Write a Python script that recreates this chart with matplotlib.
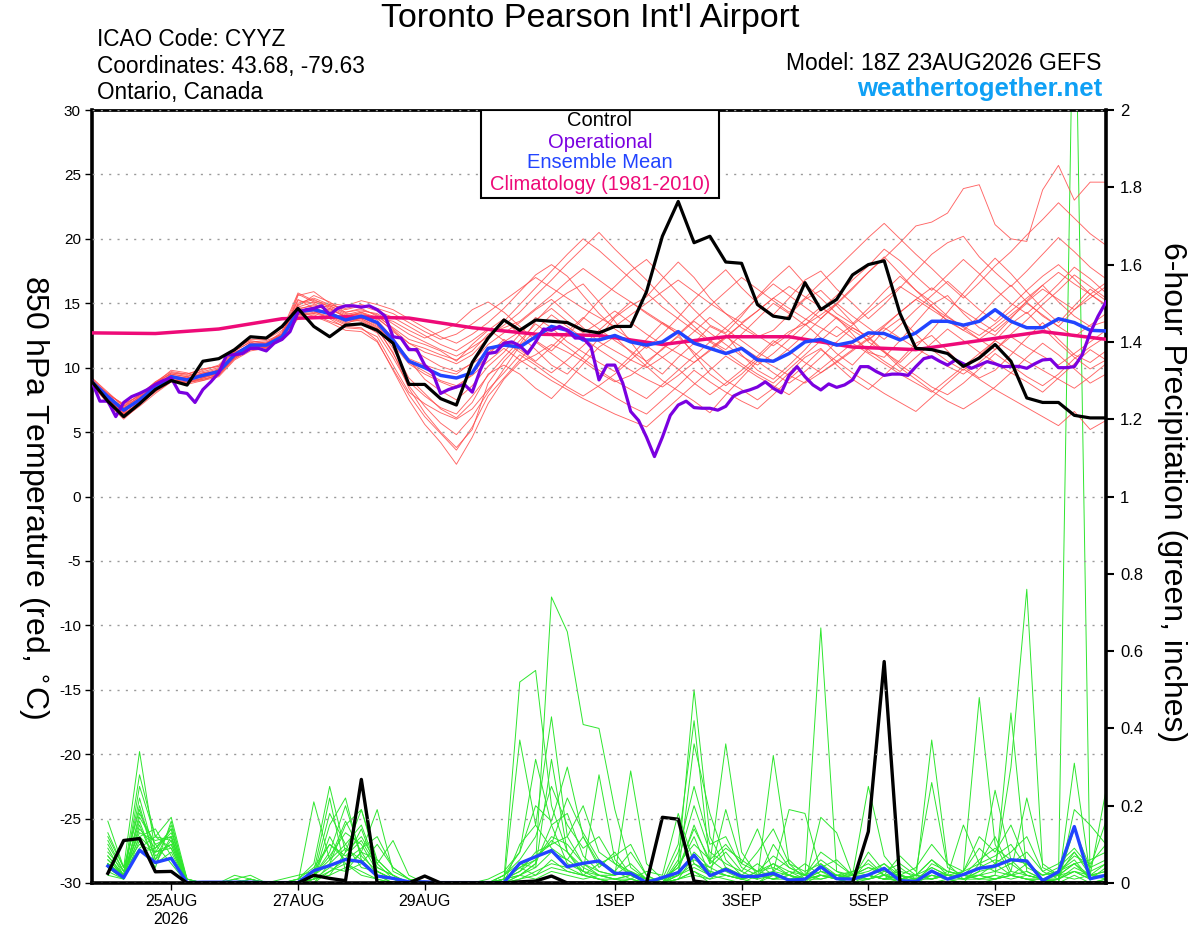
import matplotlib
matplotlib.use("Agg")
import matplotlib.pyplot as plt
from matplotlib.patches import Rectangle
import pandas as pd

plt.rcParams['font.family'] = ['Liberation Sans', 'DejaVu Sans']

# ---------------- data ----------------
run_start = "2026-08-23 18:00"
times = pd.date_range(run_start, periods=65, freq="6h")
op_times = pd.date_range(run_start, periods=129, freq="3h")
clim_times = pd.date_range(run_start, periods=17, freq="24h")
precip_times = times[1:]

tick_dates = ["2026-08-25", "2026-08-27", "2026-08-29", "2026-09-01",
              "2026-09-03", "2026-09-05", "2026-09-07"]
tick_labels = ["25AUG\n2026", "27AUG", "29AUG", "1SEP", "3SEP", "5SEP", "7SEP"]
temp_ticks = [-30, -25, -20, -15, -10, -5, 0, 5, 10, 15, 20, 25, 30]
precip_ticks = [0, 0.2, 0.4, 0.6, 0.8, 1, 1.2, 1.4, 1.6, 1.8, 2]

control_temp = [8.9, 7.4, 6.2, 7.2, 8.3, 9.0, 8.65, 10.5, 10.7, 11.4, 12.4, 12.3, 13.2,
                14.6, 13.2, 12.4, 13.3, 13.4, 12.9, 11.9, 8.7, 8.7, 7.6, 7.1, 10.4,
                12.3, 13.7, 12.9, 13.7, 13.6, 13.5, 12.9, 12.7, 13.2, 13.2, 15.9, 20.2,
                22.9, 19.7, 20.2, 18.2, 18.1, 14.9, 14.0, 13.8,
                16.6, 14.5, 15.3, 17.2, 18.0, 18.3, 14.2, 11.5, 11.4, 11.1, 10.1, 10.75,
                11.8, 10.5, 7.65, 7.3, 7.3, 6.3, 6.1, 6.1]

mean_temp = [8.9, 7.75, 6.7, 7.5, 8.5, 9.3, 9.05, 9.4, 9.7, 11.0, 11.75, 11.75, 12.4,
             14.35, 14.5, 14.2, 13.7, 14.0, 13.5, 12.15, 10.5, 10.0, 9.4, 9.2, 9.6,
             11.5, 11.75, 11.6, 12.4, 13.2, 12.9, 12.15, 12.15, 12.5, 12.0, 11.75, 12.0,
             12.8, 11.9, 11.5, 11.1, 11.5, 10.6, 10.5, 11.1,
             12.0, 12.2, 11.75, 12.0, 12.7, 12.65, 12.15, 12.7, 13.6, 13.6, 13.3, 13.6,
             14.5, 13.6, 13.1, 13.1, 13.8, 13.5, 12.9, 12.85]

oper_temp = [8.9, 7.4, 7.4, 6.2, 7.3, 7.75, 8.0, 8.3, 8.7, 9.0, 9.2, 8.1, 8.0, 7.3, 8.3, 8.9,
             9.6, 11.0, 11.0, 11.1, 11.5, 11.5, 11.3, 11.9, 12.2, 12.8, 14.3, 14.5, 14.6, 14.8,
             14.1, 14.6, 14.8, 14.8, 14.7, 14.8, 14.5, 14.0, 12.4, 12.3, 11.4, 11.4, 10.2, 9.6,
             8.0, 8.3, 8.5, 8.7, 8.1, 9.8, 11.1, 11.2, 11.9, 12.0, 11.7, 11.1, 12.0, 13.0, 12.9,
             13.2, 12.9, 12.3, 12.3, 11.6, 9.05, 10.2, 10.2, 8.8, 6.6, 5.9, 4.6, 3.1, 4.6, 6.3,
             7.1, 7.4, 6.9, 6.85, 6.85, 6.7, 7.0, 7.8, 8.1, 8.27, 8.5, 8.9, 8.4, 8.05, 9.4,
             10.08, 9.3, 8.66, 8.27, 8.74, 8.47, 8.66, 9.05, 10.08, 10.08, 9.7, 9.4, 9.5, 9.5,
             9.4, 10.08, 10.7, 10.85, 10.5, 10.2, 10.6, 10.3, 9.95, 10.2, 10.47, 10.3, 10.08,
             10.1, 10.1, 9.95, 10.3, 10.6, 10.65, 10.0, 10.0, 10.08, 11.0, 12.7, 14.0, 15.1]

clim_temp = [12.7, 12.65, 13.0, 13.8, 13.95, 13.85, 13.1, 12.6, 12.5, 11.8, 12.4, 12.4,
             11.6, 11.4, 12.1, 12.8, 12.2]

ens_temp = [
    [9.0, 7.5, 6.5, 7.6, 8.8, 9.8, 9.6, 9.2, 9.9, 11.3, 12.0, 11.5, 12.6,
     15.2, 15.0, 14.3, 13.8, 13.6, 13.0, 11.2, 8.4, 6.5, 5.0, 3.8, 5.2,
     8.8, 10.5, 11.8, 13.6, 14.9, 15.8, 16.5, 15.1, 13.6, 12.0, 10.4, 9.5, 10.8, 11.9, 13.2, 12.6, 11.0, 9.8, 9.1, 10.2,
     11.4, 12.8, 13.9, 12.6, 11.2, 10.8, 12.1, 13.5, 14.9, 15.6, 14.2, 13.1, 12.5, 13.8, 15.2, 16.4, 15.1, 14.0, 13.2, 13.6],
    [8.7, 7.2, 6.0, 7.1, 8.2, 9.1, 8.9, 9.0, 9.5, 10.7, 11.5, 11.9, 12.8,
     14.8, 15.6, 15.1, 14.3, 14.6, 14.0, 13.1, 12.2, 11.8, 11.3, 10.5, 11.8,
     12.9, 13.8, 12.5, 11.4, 10.2, 9.5, 10.8, 12.3, 13.9, 14.8, 15.5, 16.9, 18.2, 17.0, 15.4, 14.2, 13.1, 12.4, 12.9, 14.1,
     15.3, 16.0, 14.8, 13.5, 12.0, 11.2, 10.4, 11.6, 12.9, 14.3, 15.8, 17.2, 18.5, 17.3, 15.9, 14.6, 13.5, 14.8, 16.1, 15.2],
    [9.2, 8.1, 7.0, 7.9, 8.9, 9.5, 9.3, 9.8, 10.2, 11.5, 12.1, 11.9, 12.1,
     13.8, 14.1, 13.6, 13.2, 13.1, 12.1, 9.8, 7.5, 5.6, 4.2, 2.5, 4.6,
     7.2, 9.1, 10.4, 11.0, 11.8, 11.2, 10.5, 9.6, 8.9, 9.4, 10.3, 11.5, 12.4, 11.2, 10.1, 9.0, 8.3, 7.5, 8.4, 9.6,
     10.8, 11.5, 10.2, 9.1, 8.3, 9.4, 10.6, 11.9, 12.5, 11.3, 10.1, 9.2, 9.8, 11.0, 12.3, 13.5, 12.2, 11.0, 10.4, 11.3],
    [8.8, 7.9, 7.2, 7.8, 8.4, 9.0, 9.1, 9.6, 9.9, 10.8, 11.4, 11.6, 12.2,
     15.6, 15.9, 15.0, 14.8, 15.2, 14.9, 14.5, 13.8, 13.1, 12.4, 11.9, 12.6,
     13.5, 14.6, 15.9, 17.2, 18.0, 17.1, 15.6, 14.2, 13.0, 12.2, 11.5, 12.6, 13.9, 15.3, 16.5, 17.6, 16.2, 15.0, 14.1, 15.4,
     16.8, 17.5, 16.1, 15.0, 13.8, 14.9, 16.2, 17.5, 18.8, 19.7, 20.2, 18.6, 17.4, 16.3, 17.5, 18.8, 20.1, 19.0, 17.8, 16.9],
    [9.1, 7.6, 6.4, 7.3, 8.1, 8.9, 9.2, 9.3, 9.6, 10.9, 11.9, 12.0, 12.5,
     14.0, 14.2, 14.6, 13.9, 14.3, 13.7, 12.3, 10.6, 9.1, 8.2, 7.5, 8.6,
     10.1, 11.2, 12.6, 13.9, 13.1, 12.0, 11.2, 10.4, 9.7, 10.9, 12.2, 13.5, 12.6, 11.0, 9.5, 8.6, 9.5, 10.7, 11.9, 12.8,
     13.4, 12.3, 11.1, 10.2, 11.5, 12.9, 13.8, 12.6, 11.4, 10.5, 9.8, 10.9, 12.1, 13.4, 14.3, 13.1, 11.9, 10.8, 9.9, 10.6],
    [8.6, 7.4, 6.3, 7.4, 8.6, 9.4, 9.0, 9.1, 9.4, 10.9, 11.8, 11.7, 12.3,
     14.1, 14.3, 14.0, 13.4, 13.9, 13.3, 11.5, 9.2, 8.0, 6.8, 6.1, 7.3,
     9.5, 10.2, 9.5, 8.4, 7.6, 8.9, 10.3, 11.6, 12.4, 11.2, 10.1, 9.0, 8.2, 7.4, 6.5, 7.9, 9.2, 10.5, 9.6, 8.8,
     9.7, 10.8, 12.0, 13.1, 12.4, 11.3, 10.2, 9.4, 8.5, 7.9, 8.8, 9.9, 11.1, 10.2, 9.3, 8.6, 9.5, 10.7, 11.6, 12.4],
    [9.0, 8.0, 7.0, 7.7, 8.7, 9.6, 9.4, 9.7, 10.0, 11.2, 11.7, 11.9, 12.6,
     15.3, 14.6, 14.8, 14.2, 14.1, 13.9, 13.6, 12.9, 12.3, 12.8, 13.4, 14.5,
     15.1, 14.3, 13.2, 12.1, 11.3, 12.5, 13.8, 15.2, 16.3, 17.5, 18.4, 17.1, 15.8, 14.5, 13.3, 12.7, 14.0, 15.5, 16.8, 17.9,
     16.5, 15.4, 14.2, 13.4, 14.6, 15.9, 17.1, 16.0, 14.8, 13.6, 12.9, 14.0, 15.3, 16.4, 15.1, 14.0, 13.2, 14.5, 15.7, 16.6],
    [8.9, 7.7, 6.8, 7.6, 8.3, 9.2, 9.0, 9.5, 9.8, 11.1, 11.6, 11.8, 12.4,
     14.5, 14.9, 14.4, 13.6, 13.8, 13.2, 12.0, 10.7, 10.2, 9.8, 9.5, 10.4,
     11.8, 12.7, 13.5, 14.5, 15.3, 14.2, 13.1, 12.0, 11.3, 10.6, 10.0, 10.8, 11.7, 12.8, 13.9, 13.0, 12.1, 11.2, 10.5, 11.5,
     12.6, 13.8, 14.9, 16.1, 17.4, 18.6, 17.3, 16.0, 15.1, 14.0, 13.1, 12.2, 11.4, 12.6, 13.7, 14.9, 16.0, 17.2, 16.3, 15.4],
    [8.8, 7.5, 6.6, 7.5, 8.5, 9.1, 8.8, 9.2, 9.6, 10.8, 11.6, 11.6, 12.3,
     14.2, 14.4, 13.8, 13.1, 13.0, 12.4, 10.2, 8.1, 7.2, 6.5, 6.0, 6.8,
     8.3, 9.6, 11.0, 10.2, 9.3, 8.5, 7.8, 8.6, 9.5, 10.6, 11.7, 10.8, 9.9, 8.8, 7.9, 8.8, 9.8, 10.9, 12.1, 11.3,
     10.4, 9.6, 10.5, 11.4, 12.3, 11.2, 10.0, 9.1, 8.2, 7.4, 6.8, 7.6, 8.5, 9.6, 10.8, 11.9, 11.0, 9.9, 8.8, 9.5],
    [9.1, 7.8, 6.9, 7.4, 8.6, 9.5, 9.3, 9.6, 9.7, 11.0, 11.9, 11.8, 12.7,
     14.9, 15.3, 14.7, 14.1, 14.4, 14.2, 13.4, 12.6, 12.0, 11.4, 10.9, 11.6,
     12.4, 13.3, 14.3, 15.6, 16.8, 18.1, 19.3, 20.5, 19.2, 18.0, 16.8, 15.5, 14.3, 13.2, 12.1, 11.4, 12.6, 13.8, 15.0, 14.2,
     13.3, 14.5, 15.6, 16.8, 17.9, 19.2, 18.3, 17.1, 16.0, 17.2, 18.4, 17.3, 16.1, 15.0, 14.2, 15.3, 16.5, 17.8, 16.9, 15.8],
    [8.9, 7.3, 6.2, 7.2, 8.4, 9.3, 9.0, 9.3, 9.5, 11.1, 11.8, 11.9, 12.2,
     14.4, 14.7, 14.1, 13.5, 13.7, 13.0, 11.8, 10.3, 9.5, 8.9, 8.4, 9.5,
     11.0, 12.2, 11.4, 10.5, 11.6, 12.8, 13.9, 13.0, 12.1, 11.3, 10.5, 11.4, 12.5, 13.6, 12.7, 11.8, 10.9, 10.2, 11.1, 12.2,
     13.3, 14.1, 15.0, 14.0, 13.1, 12.2, 13.3, 14.5, 15.6, 16.7, 15.6, 14.5, 13.6, 14.8, 16.0, 17.1, 18.0, 16.9, 15.7, 14.8],
    [8.7, 7.7, 6.9, 7.7, 8.6, 9.2, 9.1, 9.4, 9.8, 10.9, 11.6, 11.7, 12.5,
     14.6, 14.8, 14.5, 14.0, 14.2, 13.8, 12.9, 11.6, 10.8, 10.1, 9.7, 10.3,
     11.2, 12.0, 12.8, 13.7, 14.6, 13.6, 12.7, 13.5, 14.4, 13.5, 12.6, 11.8, 11.1, 10.4, 11.3, 12.3, 13.4, 12.5, 11.7, 12.6,
     13.7, 14.7, 13.8, 12.9, 12.1, 13.2, 14.3, 15.3, 16.2, 15.3, 14.4, 13.6, 12.8, 13.9, 15.0, 14.1, 13.2, 12.4, 13.3, 14.2],
    [9.0, 7.6, 6.5, 7.5, 8.7, 9.4, 9.2, 9.5, 9.6, 11.2, 11.7, 11.6, 12.3,
     15.0, 15.4, 14.9, 14.5, 14.8, 14.4, 13.9, 13.2, 12.5, 11.8, 11.3, 12.1,
     13.0, 12.1, 11.2, 10.4, 9.6, 10.6, 11.7, 12.9, 14.0, 15.1, 14.2, 13.4, 12.6, 13.7, 14.8, 15.9, 17.0, 16.1, 15.2, 14.3,
     15.4, 16.6, 17.7, 18.9, 20.1, 21.2, 20.0, 18.8, 17.7, 16.5, 15.4, 16.6, 17.9, 19.0, 20.3, 21.5, 22.8, 21.6, 20.4, 19.5],
    [8.8, 7.4, 6.4, 7.3, 8.3, 9.0, 8.9, 9.2, 9.5, 10.8, 11.5, 11.7, 12.4,
     14.3, 14.5, 14.2, 13.7, 13.8, 13.1, 11.1, 8.9, 7.8, 6.9, 6.4, 7.8,
     9.4, 10.8, 12.1, 13.4, 12.5, 11.6, 10.7, 9.8, 9.0, 8.3, 7.6, 8.7, 9.8, 10.9, 12.0, 11.2, 10.3, 9.5, 8.8, 9.9,
     11.0, 12.1, 13.2, 12.3, 11.4, 10.5, 9.7, 10.8, 11.9, 13.0, 12.1, 11.2, 10.4, 9.6, 8.9, 8.1, 9.2, 10.3, 11.4, 10.6],
    [9.2, 8.0, 7.1, 7.9, 8.8, 9.6, 9.5, 9.9, 10.1, 11.3, 12.0, 12.1, 12.6,
     15.7, 15.1, 14.6, 14.0, 14.3, 13.9, 12.8, 11.9, 11.2, 10.8, 10.3, 11.0,
     12.3, 13.6, 14.9, 16.2, 17.5, 18.8, 20.0, 19.1, 18.0, 16.9, 15.8, 14.7, 13.8, 12.9, 12.0, 13.1, 14.2, 15.4, 16.5, 15.6,
     14.7, 13.8, 15.0, 16.2, 17.4, 18.5, 19.7, 21.0, 21.3, 22.0, 23.9, 24.2, 21.1, 20.0, 19.8, 23.8, 25.7, 23.0, 24.4, 24.4],
    [8.6, 7.3, 6.1, 7.0, 8.0, 8.9, 8.7, 9.0, 9.3, 10.6, 11.3, 11.5, 12.2,
     13.9, 14.0, 13.5, 12.9, 12.8, 12.0, 9.9, 7.9, 6.2, 4.9, 3.6, 5.4,
     7.8, 9.2, 10.6, 12.0, 11.1, 10.2, 9.3, 8.5, 7.7, 7.0, 6.4, 7.5, 8.6, 9.8, 8.9, 8.1, 7.4, 6.8, 7.9, 9.1,
     10.2, 11.4, 10.5, 9.6, 8.8, 8.0, 7.3, 6.6, 7.7, 8.8, 9.9, 9.1, 8.3, 7.6, 6.9, 6.2, 5.5, 6.6, 5.2, 5.9],
    [9.0, 7.9, 6.8, 7.8, 8.9, 9.7, 9.5, 9.9, 10.1, 11.4, 12.2, 12.2, 12.9,
     15.8, 15.2, 14.9, 14.6, 14.9, 14.6, 14.2, 13.5, 12.8, 12.2, 12.6, 13.4,
     14.3, 15.2, 16.1, 17.0, 16.2, 15.4, 14.6, 13.9, 13.2, 14.1, 15.0, 15.9, 16.8, 15.9, 15.0, 14.2, 13.5, 14.4, 15.4, 16.3,
     15.5, 14.7, 13.9, 13.1, 12.4, 13.3, 14.3, 15.3, 14.5, 13.7, 12.9, 12.2, 13.1, 14.1, 15.1, 16.1, 15.3, 14.5, 15.4, 16.3],
    [8.9, 7.6, 6.6, 7.4, 8.4, 9.2, 9.0, 9.3, 9.7, 11.0, 11.7, 11.8, 12.4,
     14.4, 14.6, 14.2, 13.6, 13.9, 13.4, 12.0, 10.4, 9.7, 9.0, 8.6, 9.4,
     10.5, 11.5, 10.6, 9.8, 9.0, 8.3, 7.6, 7.0, 6.4, 5.9, 5.4, 6.5, 7.6, 8.7, 9.8, 10.9, 10.1, 9.3, 8.6, 7.9,
     8.9, 9.9, 10.9, 11.9, 11.1, 10.3, 9.5, 8.8, 8.1, 9.1, 10.1, 11.1, 12.1, 11.3, 10.5, 9.8, 9.1, 8.4, 9.3, 10.3],
    [8.7, 7.7, 6.7, 7.6, 8.5, 9.3, 9.2, 9.4, 9.8, 11.1, 11.8, 11.7, 12.3,
     14.7, 15.1, 14.8, 14.3, 14.5, 14.1, 13.0, 11.9, 11.5, 11.0, 10.6, 11.3,
     12.6, 13.1, 13.6, 14.6, 15.6, 16.7, 17.7, 16.8, 15.9, 15.1, 14.3, 13.5, 12.8, 12.1, 11.5, 12.4, 13.4, 14.4, 15.4, 14.6,
     13.8, 13.1, 12.4, 13.3, 14.3, 15.3, 16.3, 15.5, 14.7, 13.9, 13.2, 12.5, 13.4, 14.4, 15.4, 16.4, 17.4, 16.5, 15.7, 14.9],
    [9.0, 7.5, 6.4, 7.2, 8.2, 9.0, 8.8, 9.1, 9.4, 10.7, 11.4, 11.6, 12.2,
     14.1, 14.2, 13.9, 13.3, 13.4, 12.7, 10.8, 8.6, 7.0, 5.7, 4.8, 6.2,
     8.1, 9.9, 11.7, 12.9, 14.1, 13.2, 12.3, 11.4, 10.6, 9.8, 9.1, 8.5, 9.4, 10.4, 11.4, 12.4, 11.6, 10.8, 10.1, 9.4,
     8.8, 9.6, 10.4, 11.3, 12.2, 13.1, 12.3, 11.5, 10.8, 10.1, 9.5, 10.4, 11.4, 12.4, 11.6, 10.9, 10.2, 11.1, 12.0, 12.9],
]

control_precip = [.025, .11, .115, .029, .03, 0, 0, 0,
                  0, 0, 0, 0, 0, .02, .012, .006,
                  .268, 0, 0, 0, .018, 0, 0, 0,
                  0, 0, .003, .005, .018, 0, 0, 0,
                  0, 0, 0, .17, .165, .005, 0, 0,
                  0, 0, 0, 0, 0, 0, 0, 0,
                  .133, .573, 0, 0, 0, 0, 0, 0,
                  0, 0, 0, 0, 0, 0, 0, 0]

mean_precip = [.044, .014, .085, .053, .064, .001, .002, .002,
               .002, .002, .001, .001, .001, .032, .045, .061,
               .055, .018, .012, .003, .003, .001, .001, .001,
               .001, .001, .051, .068, .084, .042, .051, .057,
               .025, .025, .001, .014, .027, .072, .019, .035,
               .017, .017, .025, .007, .01, .042, .011, .01,
               .021, .038, .006, .004, .031, .01, .022, .038,
               .044, .06, .057, .006, .029, .146, .011, .02]

ens_precip = [
    [.16, .04, .34, .08, .10, 0, 0, 0, 0, .01, 0, 0, 0, .01, .03, .05,
     .02, .01, 0, 0, 0, 0, 0, 0, 0, 0, .02, .05, .74, .65, .41, .40,
     .19, .04, .01, 0, .01, .03, 0, 0, 0, 0, .02, .01, 0, .05, .01, 0,
     0, 0, .01, 0, .02, .01, 0, 0, .01, .02, .05, .01, 0, .02, 0, .01],
    [.05, .02, .28, .12, .17, .01, 0, 0, .01, .02, 0, 0, 0, .21, .06, .10,
     .04, .03, .01, 0, 0, 0, 0, 0, 0, .01, .52, .55, .20, .08, .03, .01,
     0, 0, 0, 0, .05, .50, .12, .04, .01, 0, .03, .02, 0, .02, .01, 0,
     .02, .05, .01, 0, 0, .01, .03, .48, .10, .02, .01, 0, .01, .03, .02, .05],
    [.02, .01, .15, .05, .12, 0, 0, 0, 0, 0, 0, 0, .01, .05, .25, .08,
     .19, .06, .02, 0, 0, 0, 0, 0, 0, 0, .37, .15, .43, .12, .05, .02,
     .01, 0, 0, .01, .10, .42, .05, .36, .08, .02, .01, .01, 0, .17, .13, .02,
     .25, .07, .02, .01, .37, .05, .01, .03, .24, .06, .02, .01, 0, .31, .02, .24],
    [.08, .03, .20, .06, .15, .01, 0, 0, 0, 0, 0, .01, .02, .03, .22, .03,
     .08, .19, .03, .01, 0, 0, 0, 0, .01, .03, .08, .32, .15, .05, .03, .28,
     .06, .02, 0, 0, .02, .36, .18, .06, .02, .01, .33, .05, .01, .03, .01, 0,
     .01, .02, .07, .03, .26, .04, .02, .01, .02, .44, .03, .01, 0, .19, .15, .10],
    [.12, .04, .10, .08, .09, 0, 0, 0, .02, .01, 0, 0, 0, .01, .15, .22,
     .06, .02, 0, 0, 0, 0, 0, 0, 0, .02, .05, .04, .32, .08, .02, .01,
     0, .01, .03, .02, .18, .05, .02, .19, .05, .14, .03, .19, .18, .03, .02, .01,
     .06, .02, 0, .01, .03, .01, 0, .05, .12, .03, .22, .05, .02, .08, .02, .03],
    [.06, .02, .12, .14, .07, 0, 0, 0, 0, 0, 0, 0, .01, .02, .05, .15,
     .19, .05, .11, .02, 0, 0, 0, 0, 0, .01, .04, .06, .12, .10, .05, .03,
     .02, .29, .05, .01, .02, .08, .04, .02, .01, .03, .05, .02, .01, .02, .01, .03,
     .05, .02, .01, .02, .04, .02, .15, .05, .03, .05, .02, .01, .03, .05, .06, .08],
    [.04, .01, .18, .10, .05, 0, 0, 0, 0, .01, 0, 0, 0, .01, .12, .05,
     .03, .01, 0, 0, 0, 0, 0, 0, 0, 0, .10, .15, .09, .06, .12, .04,
     .08, .02, 0, .01, .04, .12, .02, .01, 0, .02, .01, .02, .05, .02, .01, .02,
     .01, .03, .02, 0, .05, .03, .02, .02, .01, .02, .01, 0, .01, 2.5, 0, .01],
    [.10, .03, .09, .12, .11, 0, 0, 0, 0, 0, 0, 0, 0, .02, .18, .10,
     .15, .04, .02, 0, 0, 0, 0, 0, 0, .01, .02, .05, .15, .18, .07, .03,
     .02, .05, .01, 0, .03, .06, .04, .08, .03, .01, .10, .04, .02, .04, .06, .02,
     .02, .01, .04, .01, .02, .01, .03, .12, .08, .15, .05, .02, .03, .06, .01, .04],
    [.07, .02, .14, .09, .13, .01, 0, 0, 0, 0, 0, 0, 0, .01, .02, .08,
     .12, .05, .01, 0, 0, 0, 0, 0, 0, 0, .01, .03, .05, .04, .02, .01,
     .01, .02, .01, 0, .01, .03, .01, .04, .02, .05, .02, .01, .01, .02, .02, .01,
     .02, .01, .01, .02, .01, .02, .01, .01, .01, .02, .01, .01, .01, .04, .02, .02],
    [.03, .01, .11, .04, .16, 0, 0, 0, 0, 0, 0, 0, 0, 0, .03, .06,
     .09, .12, .04, .01, 0, 0, 0, 0, 0, .01, .03, .08, .10, .22, .13, .06,
     .03, .01, 0, 0, .05, .10, .06, .03, .01, .02, .03, .06, .02, .66, .03, .01,
     .02, .01, .01, .02, .06, .02, .01, .03, .04, .30, .76, .04, .02, .05, .01, .02],
    [.09, .02, .22, .07, .10, 0, 0, 0, 0, 0, 0, 0, .01, .04, .10, .06,
     .14, .03, .01, 0, 0, 0, 0, 0, 0, .02, .06, .12, .25, .15, .09, .12,
     .05, .02, .01, 0, .08, .25, .10, .12, .04, .02, .05, .03, .02, .08, .05, .02,
     .04, .02, .03, .02, .01, .02, .03, .05, .07, .10, .04, .02, .04, .08, .03, .05],
    [.05, .02, .16, .05, .08, 0, 0, 0, 0, .01, 0, 0, 0, .02, .06, .16,
     .08, .02, .01, 0, 0, 0, 0, 0, 0, 0, .02, .01, .03, .02, .01, .02,
     .01, .01, 0, 0, .02, .05, .03, .02, .01, .03, .02, .01, .01, .03, .02, .02,
     .01, .02, .01, .01, .02, .01, .01, .02, .03, .02, .01, .01, .02, .01, .02, .01],
    [.11, .03, .13, .11, .12, .01, 0, 0, 0, 0, 0, 0, 0, .01, .04, .03,
     .05, .10, .04, .01, 0, 0, 0, 0, 0, .01, .04, .02, .06, .03, .02, .05,
     .07, .10, .02, 0, .03, .15, .05, .09, .06, .03, .04, .02, .01, .02, .01, .02,
     .03, .05, .02, .01, .04, .02, .01, .02, .05, .02, .03, .01, .02, .05, .02, .03],
    [.06, .02, .08, .09, .14, 0, 0, 0, 0, 0, 0, 0, 0, .02, .08, .20,
     .07, .03, .01, 0, 0, 0, 0, 0, 0, .01, .02, .04, .08, .06, .03, .02,
     .02, .03, .01, 0, .02, .04, .02, .04, .02, .01, .02, .01, .02, .01, .02, .01,
     .02, .01, .02, .01, .03, .02, .02, .01, .02, .01, .02, .01, .01, .03, .01, .02],
    [.13, .04, .19, .06, .11, 0, 0, 0, .01, 0, 0, 0, 0, .03, .10, .07,
     .11, .04, .02, 0, 0, 0, 0, 0, 0, .01, .03, .06, .11, .08, .04, .02,
     .01, .02, 0, 0, .01, .07, .03, .02, .01, .02, .01, .03, .01, .04, .02, .01,
     .01, .02, .01, .02, .01, .03, .02, .04, .06, .05, .08, .03, .01, .14, .04, .16],
    [.04, .01, .25, .12, .09, 0, 0, 0, 0, 0, 0, 0, 0, .01, .02, .04,
     .08, .06, .02, 0, 0, 0, 0, 0, 0, 0, .01, .02, .04, .03, .02, .01,
     0, .01, 0, 0, .01, .02, .01, .02, .01, .02, .01, .02, .01, .01, .02, .03,
     .02, .01, .02, .01, .01, .02, .01, .02, .01, .03, .02, .01, .02, .03, .01, .02],
    [.07, .02, .12, .08, .14, 0, 0, 0, 0, 0, 0, 0, 0, 0, .05, .09,
     .06, .02, 0, 0, 0, 0, 0, 0, 0, .02, .08, .20, .16, .30, .12, .05,
     .03, .08, .02, 0, .06, .20, .08, .05, .03, .08, .14, .05, .03, .05, .02, .01,
     .08, .03, .02, .04, .10, .05, .03, .09, .05, .08, .12, .03, .05, .09, .04, .06],
    [.05, .02, .17, .10, .12, 0, 0, 0, 0, 0, 0, 0, 0, .02, .07, .13,
     .10, .03, .01, 0, 0, 0, 0, 0, 0, .01, .04, .07, .10, .12, .20, .08,
     .05, .03, .01, .01, .04, .14, .06, .10, .05, .03, .07, .04, .02, .06, .03, .02,
     .04, .03, .05, .02, .06, .03, .02, .06, .09, .06, .05, .02, .03, .07, .05, .10],
]

# ---------------- figure ----------------
W, H = 1200, 927
fig = plt.figure(figsize=(W / 100, H / 100), dpi=100)
ax = fig.add_axes([92 / W, 1 - 883 / H, (1106 - 92) / W, (883 - 110) / H])
ax2 = ax.twinx()
ax.set_zorder(ax2.get_zorder() + 1)
ax.patch.set_visible(False)

# precipitation (right axis)
for m in ens_precip:
    ax2.plot(precip_times, m, color="#2ee62e", lw=0.7, zorder=1)
ax2.plot(precip_times, mean_precip, color="#2244ff", lw=2.4, zorder=3)
ax2.plot(precip_times, control_precip, color="black", lw=2.4, zorder=4)

# temperature (left axis)
for m in ens_temp:
    ax.plot(times, m, color="#ff4a4a", lw=0.65, alpha=0.85, zorder=2)
ax.plot(clim_times, clim_temp, color="#ee0a78", lw=2.5, zorder=3)
ax.plot(times, mean_temp, color="#2244ff", lw=2.5, zorder=4)
ax.plot(op_times, oper_temp, color="#7a00e0", lw=2.3, zorder=5)
ax.plot(times, control_temp, color="black", lw=2.3, zorder=6)

ax.set_xlim(times[0], times[-1])
ax.set_ylim(-30, 30)
ax2.set_ylim(0, 2)

ax.set_yticks(temp_ticks)
ax.set_yticklabels([str(t) for t in temp_ticks])
ax2.set_yticks(precip_ticks)
ax2.set_yticklabels([f"{t:g}" for t in precip_ticks])
ax.set_xticks(pd.to_datetime(tick_dates))
ax.set_xticklabels(tick_labels)

ax.yaxis.grid(True, linestyle=(0, (1.5, 4.5)), color="#9a9a9a", lw=1.0)
ax.set_axisbelow(False)

ax.tick_params(axis="y", direction="out", length=5, width=1, labelsize=11, pad=3)
ax.tick_params(axis="x", direction="out", length=5, width=1, labelsize=11.5, pad=3)
ax2.tick_params(axis="y", direction="out", length=6, width=1.5, labelsize=12, pad=4)

for s in ["left", "right", "bottom"]:
    ax.spines[s].set_linewidth(2.6)
ax.spines["top"].set_linewidth(2)
for s in ax2.spines.values():
    s.set_visible(False)

# legend box
ax.add_patch(Rectangle(((481 - 92) / 1014, (883 - 198) / 773), (719 - 481) / 1014, 88 / 773,
                       transform=ax.transAxes, facecolor="white", edgecolor="black",
                       lw=1.5, zorder=10))
leg = [("Control", "black", 121), ("Operational", "#7a00e0", 142),
       ("Ensemble Mean", "#2244ff", 163), ("Climatology (1981-2010)", "#ee0a78", 185)]
for txt, col, yp in leg:
    ax.text((600 - 92) / 1014, (883 - yp) / 773, txt, color=col, fontsize=14.5,
            ha="center", va="center", transform=ax.transAxes, zorder=11)

# figure texts
fig.text(590 / W, 1 - 19 / H, "Toronto Pearson Int'l Airport", fontsize=24.5, ha="center", va="center")
fig.text(97 / W, 1 - 40 / H, "ICAO Code: CYYZ", fontsize=16.3, ha="left", va="center")
fig.text(97 / W, 1 - 66 / H, "Coordinates: 43.68, -79.63", fontsize=16.3, ha="left", va="center")
fig.text(97 / W, 1 - 92 / H, "Ontario, Canada", fontsize=16.3, ha="left", va="center")
fig.text(1101 / W, 1 - 63 / H, "Model: 18Z 23AUG2026 GEFS", fontsize=16.5, ha="right", va="center")
fig.text(1102 / W, 1 - 89 / H, "weathertogether.net", fontsize=18.5, fontweight="bold",
         color="#0fa0f5", ha="right", va="center")
fig.text(33 / W, 1 - 497 / H, "850 hPa Temperature (red, $^{\\circ}$C)", fontsize=23,
         rotation=270, ha="center", va="center")
fig.text(1172 / W, 1 - 492 / H, "6-hour Precipitation (green, inches)", fontsize=23,
         rotation=270, ha="center", va="center")

fig.savefig("out.png", dpi=100)
